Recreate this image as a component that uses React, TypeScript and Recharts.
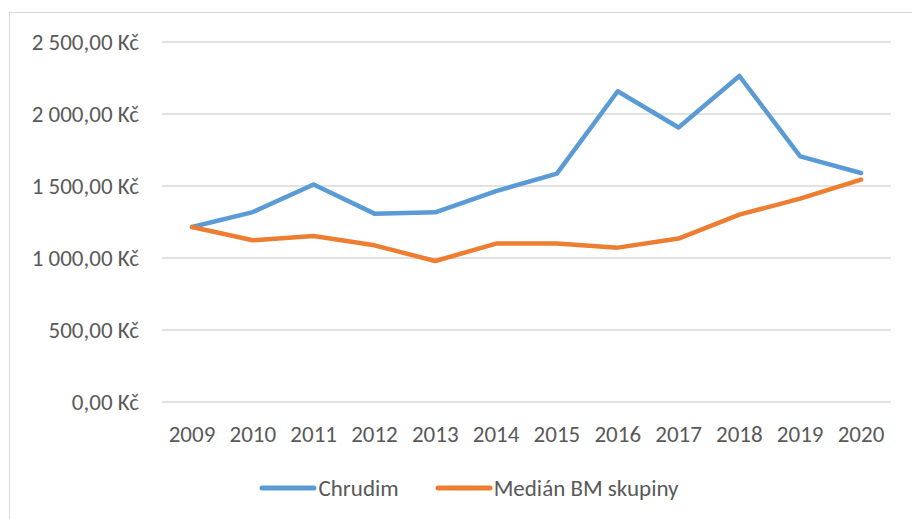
import { CartesianGrid, Legend, Line, LineChart, XAxis, YAxis } from 'recharts';

const years = ['2009', '2010', '2011', '2012', '2013', '2014', '2015', '2016', '2017', '2018', '2019', '2020'];
const chrudim = [1215, 1319, 1510, 1308, 1317, 1465, 1586, 2158, 1906, 2264, 1706, 1590];
const median = [1215, 1123, 1153, 1088, 979, 1100, 1100, 1072, 1135, 1301, 1412, 1544];
const yTicks = [0, 500, 1000, 1500, 2000, 2500];

const FONT = 'Carlito, Lato, sans-serif';
const TEXT = '#595959';
const BLUE = '#5B9BD5';
const ORANGE = '#ED7D31';

const data = years.map((y, i) => ({ year: y, chrudim: chrudim[i], median: median[i] }));

function formatKc(v: number): string {
  const int = Math.floor(v).toString().replace(/\B(?=(\d{3})+(?!\d))/g, ' ');
  return `${int},00 Kč`;
}

function LegendContent() {
  const items = [
    { label: 'Chrudim', color: BLUE },
    { label: 'Medián BM skupiny', color: ORANGE },
  ];
  return (
    <div
      style={{
        display: 'flex',
        justifyContent: 'center',
        gap: 36,
        paddingLeft: 16,
        height: 26,
        lineHeight: '26px',
        fontFamily: FONT,
        fontSize: 23,
        fontWeight: 400,
        color: TEXT,
      }}
    >
      {items.map((it) => (
        <div key={it.label} style={{ display: 'flex', alignItems: 'center' }}>
          <svg width={58} height={10}>
            <line x1={3} y1={5} x2={55} y2={5} stroke={it.color} strokeWidth={5} strokeLinecap="round" />
          </svg>
          <span style={{ marginLeft: 1 }}>{it.label}</span>
        </div>
      ))}
    </div>
  );
}

export default function App() {
  return (
    <div
      style={{
        position: 'absolute',
        left: 9,
        top: 12,
        width: 902,
        height: 507,
        borderLeft: '1px solid #D9D9D9',
        borderTop: '1px solid #D9D9D9',
        background: '#fff',
      }}
    >
      <LineChart width={902} height={507} data={data} margin={{ top: 29, right: 21, left: 0, bottom: 34 }}>
        <CartesianGrid vertical={false} stroke="#D9D9D9" strokeWidth={1.3} />
        <XAxis
          dataKey="year"
          axisLine={false}
          tickLine={false}
          tickSize={0}
          tickMargin={24}
          padding={{ left: 30, right: 30 }}
          interval={0}
          tick={{ fontSize: 23, fill: TEXT, fontFamily: FONT }}
          height={58}
        />
        <YAxis
          domain={[0, 2500]}
          ticks={yTicks}
          axisLine={false}
          tickLine={false}
          tickSize={0}
          tickMargin={23}
          width={152}
          tickFormatter={formatKc}
          tick={{ fontSize: 23, fill: TEXT, fontFamily: FONT }}
        />
        <Legend content={<LegendContent />} wrapperStyle={{ top: 462, left: 0, width: 902 }} />
        <Line
          type="linear"
          dataKey="chrudim"
          name="Chrudim"
          stroke={BLUE}
          strokeWidth={4.5}
          strokeLinecap="round"
          strokeLinejoin="round"
          dot={false}
          isAnimationActive={false}
        />
        <Line
          type="linear"
          dataKey="median"
          name="Medián BM skupiny"
          stroke={ORANGE}
          strokeWidth={4.5}
          strokeLinecap="round"
          strokeLinejoin="round"
          dot={false}
          isAnimationActive={false}
        />
      </LineChart>
    </div>
  );
}
